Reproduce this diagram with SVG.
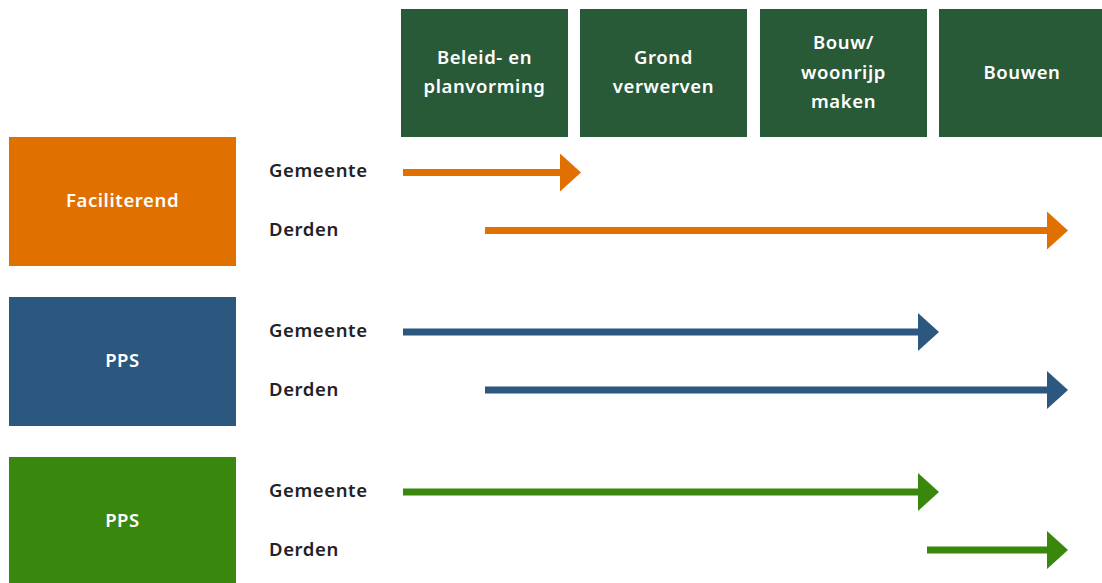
<svg xmlns="http://www.w3.org/2000/svg" width="1102" height="583" viewBox="0 0 1102 583">
<style>
  .phase { fill: #295a37; }
  .t { font-family: "Noto Sans", "Open Sans", sans-serif; font-weight: 600; font-size: 18.5px; letter-spacing: 0.6px; }
  .w { fill: #ffffff; text-anchor: middle; }
  .k { fill: #222226; }
  .a { stroke-width: 7; fill: none; }
  .or { stroke: #e07000; }
  .bl { stroke: #2c577f; }
  .gr { stroke: #3a870e; }
</style>
<defs>
  <marker id="hOr" markerUnits="userSpaceOnUse" viewBox="0 -19 21 38" markerWidth="21" markerHeight="38" refX="0" refY="0" orient="auto"><path d="M0,-19 L21,0 L0,19 z" fill="#e07000"/></marker>
  <marker id="hBl" markerUnits="userSpaceOnUse" viewBox="0 -19 21 38" markerWidth="21" markerHeight="38" refX="0" refY="0" orient="auto"><path d="M0,-19 L21,0 L0,19 z" fill="#2c577f"/></marker>
  <marker id="hGr" markerUnits="userSpaceOnUse" viewBox="0 -19 21 38" markerWidth="21" markerHeight="38" refX="0" refY="0" orient="auto"><path d="M0,-19 L21,0 L0,19 z" fill="#3a870e"/></marker>
</defs>
<rect width="1102" height="583" fill="#ffffff"/>

<g id="phase1"><rect class="phase" x="401" y="9" width="167" height="128"/>
  <text class="t w" x="484.5" y="64">Beleid- en</text><text class="t w" x="484.5" y="93">planvorming</text></g>
<g id="phase2"><rect class="phase" x="580" y="9" width="167" height="128"/>
  <text class="t w" x="663.5" y="64">Grond</text><text class="t w" x="663.5" y="93">verwerven</text></g>
<g id="phase3"><rect class="phase" x="760" y="9" width="167" height="128"/>
  <text class="t w" x="843.5" y="49">Bouw/</text><text class="t w" x="843.5" y="79">woonrijp</text><text class="t w" x="843.5" y="108">maken</text></g>
<g id="phase4"><rect class="phase" x="939" y="9" width="166" height="128"/>
  <text class="t w" x="1022" y="79">Bouwen</text></g>

<g id="faciliterend"><rect x="9" y="137" width="227" height="129" fill="#e07000"/>
  <text class="t w" x="122.5" y="207">Faciliterend</text></g>
<g id="pps1"><rect x="9" y="297" width="227" height="129" fill="#2c577f"/>
  <text class="t w" x="122.5" y="367">PPS</text></g>
<g id="pps2"><rect x="9" y="457" width="227" height="126" fill="#3a870e"/>
  <text class="t w" x="122.5" y="527">PPS</text></g>

<g id="labels">
  <text class="t k" x="269" y="177">Gemeente</text><text class="t k" x="269" y="236">Derden</text>
  <text class="t k" x="269" y="337">Gemeente</text><text class="t k" x="269" y="396">Derden</text>
  <text class="t k" x="269" y="497">Gemeente</text><text class="t k" x="269" y="556">Derden</text>
</g>

<g id="connectors">
  <line class="a or" x1="403" y1="172.5" x2="560" y2="172.5" marker-end="url(#hOr)"/>
  <line class="a or" x1="485" y1="230.5" x2="1047" y2="230.5" marker-end="url(#hOr)"/>
  <line class="a bl" x1="403" y1="332" x2="918" y2="332" marker-end="url(#hBl)"/>
  <line class="a bl" x1="485" y1="390" x2="1047" y2="390" marker-end="url(#hBl)"/>
  <line class="a gr" x1="403" y1="492" x2="918" y2="492" marker-end="url(#hGr)"/>
  <line class="a gr" x1="927" y1="550" x2="1047" y2="550" marker-end="url(#hGr)"/>
</g>
</svg>
